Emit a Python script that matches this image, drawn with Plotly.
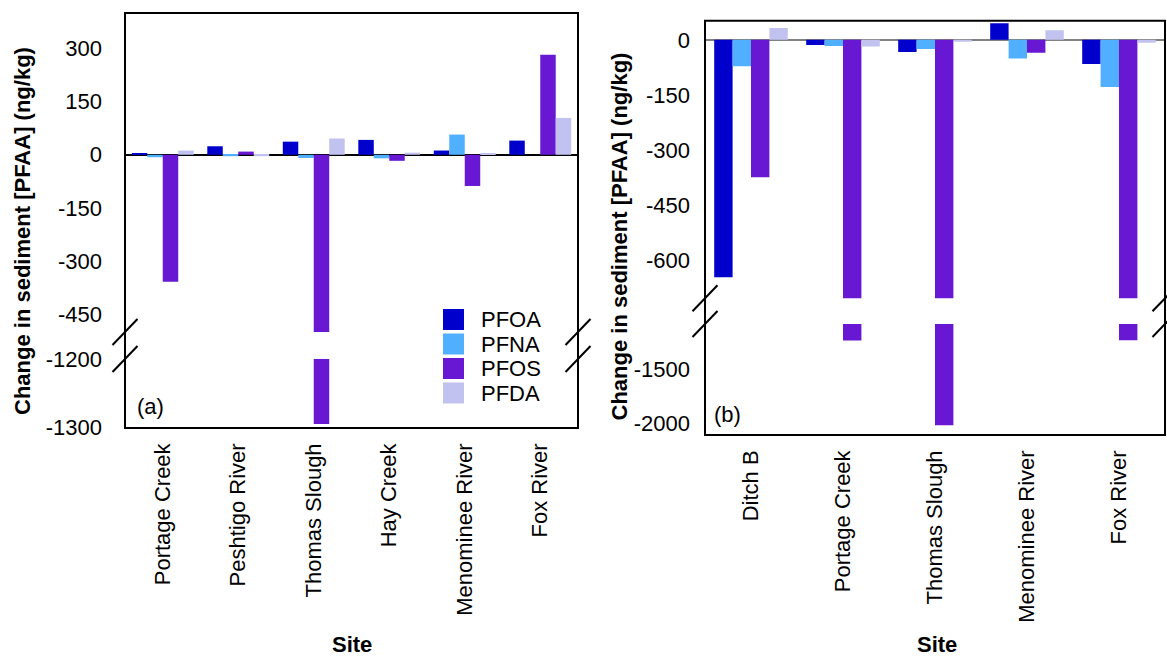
import plotly.graph_objects as go

W, H = 1167, 658

# ---------------- data ----------------
species = ["PFOA", "PFNA", "PFOS", "PFDA"]
colors = ["#0000CC", "#50B0FF", "#6818D2", "#C2C2F0"]

sites_a = ["Portage Creek", "Peshtigo River", "Thomas Slough", "Hay Creek", "Menominee River", "Fox River"]
pfoa_a = [4, 24, 37, 42, 12, 40]
pfna_a = [-7, -4, -9, -10, 57, None]
pfos_a = [-358, 9, -1295, -17, -88, 282]
pfda_a = [12, -4, 46, 6, 3, 104]

sites_b = ["Ditch B", "Portage Creek", "Thomas Slough", "Menominee River", "Fox River"]
pfoa_b = [-646, -14, -33, 45, -66]
pfna_b = [-72, -17, -25, -51, -128]
pfos_b = [-374, -1232, -2022, -35, -1229]
pfda_b = [32, -18, -3, 26, -8]

ticks_a_up = [300, 150, 0, -150, -300, -450]
ticks_a_lo = [-1200, -1300]
ticks_b_up = [0, -150, -300, -450, -600]
ticks_b_lo = [-1500, -2000]

# ---------------- helpers ----------------
def px(x):
    return x / W

def py(y):
    return 1 - y / H

FONT = "Liberation Sans, Arial, sans-serif"
FS = 22

fig = go.Figure()

series_a = [pfoa_a, pfna_a, pfos_a, pfda_a]
series_b = [pfoa_b, pfna_b, pfos_b, pfda_b]

wa, wb = 0.205, 0.2
for i, name in enumerate(species):
    for yax in ["y", "y2"]:
        fig.add_trace(go.Bar(
            x=sites_a, y=series_a[i], name=name, xaxis="x", yaxis=yax,
            marker=dict(color=colors[i], line=dict(width=0)),
            width=wa, offset=-2 * wa + i * wa, showlegend=False,
        ))
    for yax in ["y3", "y4"]:
        fig.add_trace(go.Bar(
            x=sites_b, y=series_b[i], name=name, xaxis="x2", yaxis=yax,
            marker=dict(color=colors[i], line=dict(width=0)),
            width=wb, offset=-2 * wb + i * wb, showlegend=False,
        ))

# panel geometry (pixels)
A = dict(l=125, r=578, t=13, up_b=332, lo_t=359, b=428)
B = dict(l=705, r=1165, t=20.7, up_b=298.3, lo_t=324, b=435)

tickfont = dict(family=FONT, size=FS, color="black")

def yax(domain_px, rng, tickvals, standoff, zeroline=False, zcolor="black"):
    return dict(
        domain=[py(domain_px[1]), py(domain_px[0])],
        range=rng, tickvals=tickvals, ticktext=[str(v) for v in tickvals],
        showgrid=False, showline=False, ticks="", tickfont=tickfont,
        ticklabelstandoff=standoff, zeroline=zeroline, zerolinecolor=zcolor,
        zerolinewidth=1.5, fixedrange=True, automargin=False,
    )

fig.update_layout(
    template="none",
    width=W, height=H,
    margin=dict(l=0, r=0, t=0, b=0, pad=0, autoexpand=False),
    paper_bgcolor="white", plot_bgcolor="rgba(0,0,0,0)",
    barmode="group", showlegend=False,
    font=dict(family=FONT, size=FS, color="black"),
    xaxis=dict(domain=[px(A["l"]), px(A["r"])], anchor="y2", type="category",
               tickangle=-90, ticks="", showline=False, showgrid=False, zeroline=False,
               tickfont=tickfont, ticklabelstandoff=10, range=[-0.5, 5.5],
               automargin=False, fixedrange=True),
    xaxis2=dict(domain=[px(B["l"]), px(B["r"])], anchor="y4", type="category",
                tickangle=-90, ticks="", showline=False, showgrid=False, zeroline=False,
                tickfont=tickfont, ticklabelstandoff=10, range=[-0.5, 4.5],
                automargin=False, fixedrange=True),
    yaxis=dict(anchor="x", **yax((A["t"], A["up_b"]), [-500, 400], ticks_a_up, 22, True, "black")),
    yaxis2=dict(anchor="x", **yax((A["lo_t"], A["b"]), [-1301, -1199], ticks_a_lo, 22)),
    yaxis3=dict(anchor="x2", **yax((B["t"], B["up_b"]), [-703, 52], ticks_b_up, 14, True, "#808080")),
    yaxis4=dict(anchor="x2", **yax((B["lo_t"], B["b"]), [-2112, -1077], ticks_b_lo, 14)),
)

shapes = []
# frames
for P in (A, B):
    shapes.append(dict(type="rect", xref="paper", yref="paper",
                       x0=px(P["l"]), x1=px(P["r"]), y0=py(P["b"]), y1=py(P["t"]),
                       line=dict(color="black", width=2), fillcolor="rgba(0,0,0,0)"))
    # break slashes
    for xc in (P["l"], P["r"]):
        for yc in (P["up_b"], P["lo_t"]):
            shapes.append(dict(type="line", xref="paper", yref="paper",
                               x0=px(xc - 12.5), y0=py(yc + 13),
                               x1=px(xc + 12.5), y1=py(yc - 13),
                               line=dict(color="black", width=2)))

# legend (panel a)
leg_top = [309, 333.5, 358, 382.5]
for i, name in enumerate(species):
    shapes.append(dict(type="rect", xref="paper", yref="paper",
                       x0=px(443), x1=px(464), y0=py(leg_top[i] + 21), y1=py(leg_top[i]),
                       line=dict(width=0), fillcolor=colors[i]))

fig.update_layout(shapes=shapes)

ann = []
for i, name in enumerate(species):
    ann.append(dict(text=name, x=px(479), y=py(leg_top[i] + 10.5), xref="paper", yref="paper",
                    xanchor="left", yanchor="middle", showarrow=False,
                    font=dict(family=FONT, size=FS, color="black")))

ytitle = "<b>Change in sediment [PFAA] (ng/kg)</b>"
ann.append(dict(text=ytitle, x=px(22), y=py(231), xref="paper", yref="paper",
                textangle=-90, showarrow=False, xanchor="center", yanchor="middle",
                font=dict(family=FONT, size=FS, color="black")))
ann.append(dict(text=ytitle, x=px(619), y=py(236.5), xref="paper", yref="paper",
                textangle=-90, showarrow=False, xanchor="center", yanchor="middle",
                font=dict(family=FONT, size=FS, color="black")))
ann.append(dict(text="<b>Site</b>", x=px(351.5), y=py(644), xref="paper", yref="paper",
                showarrow=False, xanchor="center", yanchor="middle",
                font=dict(family=FONT, size=FS, color="black")))
ann.append(dict(text="<b>Site</b>", x=px(937), y=py(644), xref="paper", yref="paper",
                showarrow=False, xanchor="center", yanchor="middle",
                font=dict(family=FONT, size=FS, color="black")))
ann.append(dict(text="(a)", x=px(150), y=py(406), xref="paper", yref="paper",
                showarrow=False, xanchor="center", yanchor="middle",
                font=dict(family=FONT, size=FS, color="black")))
ann.append(dict(text="(b)", x=px(727.5), y=py(414), xref="paper", yref="paper",
                showarrow=False, xanchor="center", yanchor="middle",
                font=dict(family=FONT, size=FS, color="black")))
fig.update_layout(annotations=ann)

fig.write_html("out.html")
